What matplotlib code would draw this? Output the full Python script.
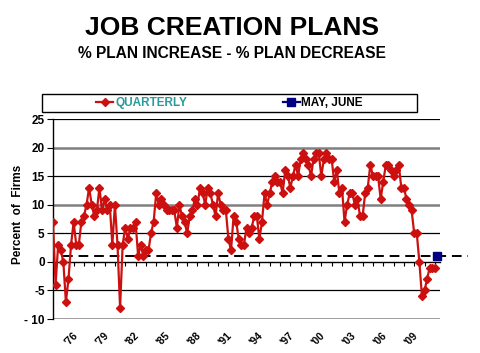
import numpy as np
import matplotlib.pyplot as plt
from matplotlib.patches import Rectangle
from matplotlib.transforms import blended_transform_factory

plt.rcParams["font.family"] = ["Liberation Sans", "DejaVu Sans"]

# quarterly net job creation plans, first quarter 1974 onward
quarterly = [
    7, -4, 3, 2, 0, -7, -3, 3, 7, 3, 3, 7, 8, 10, 13, 10, 8, 9, 13, 9,
    11, 9, 10, 3, 10, 3, -8, 3, 6, 4, 6, 6, 7, 1, 3, 1, 2, 2, 5, 7,
    12, 10, 11, 10, 9, 9, 9, 9, 6, 10, 8, 7, 5, 8, 9, 11, 10, 13, 12, 10,
    13, 12, 10, 8, 12, 10, 9, 9, 4, 2, 8, 7, 4, 3, 3, 6, 5, 6, 8, 8,
    4, 7, 12, 10, 12, 14, 15, 14, 14, 12, 16, 15, 13, 15, 17, 15, 18, 19, 18, 17,
    15, 18, 19, 19, 15, 18, 19, 18, 18, 14, 16, 12, 13, 7, 10, 12, 12, 10, 11, 8,
    8, 12, 13, 17, 15, 15, 15, 11, 14, 17, 17, 16, 15, 16, 17, 13, 13, 11, 10, 9,
    5, 5, 0, -6, -5, -3, -1, -1, -1,
]
may_june = [1]
start_year = 1974

tick_years = [1976, 1979, 1982, 1985, 1988, 1991, 1994, 1997, 2000, 2003, 2006, 2009]
tick_labels = ["'76", "'79", "'82", "'85", "'88", "'91", "'94", "'97", "'00", "'03", "'06", "'09"]
y_ticks = [-10, -5, 0, 5, 10, 15, 20, 25]
y_tick_labels = ["- 10", "-5", "0", "5", "10", "15", "20", "25"]
ref_level = 1
ref_span = [1975.0, 2014.2]

x_q = start_year + np.arange(len(quarterly)) / 4
x_mj = start_year + (len(quarterly) + np.arange(len(may_june))) / 4

fig = plt.figure(figsize=(4.8, 3.53), dpi=100)
ax = fig.add_axes([53 / 480, 1 - 319 / 353, 387 / 480, 200 / 353])

ax.set_ylim(-10, 25)
ax.set_xlim(start_year, start_year + 150 / 4)

# horizontal grid, alternating black / grey like the original
for val in y_ticks:
    if val == 0:
        continue
    if val in (20, 10, -10):
        ax.axhline(val, color="#808080", lw=1.8, zorder=1)
    else:
        ax.axhline(val, color="black", lw=0.9, zorder=1)

ax.plot(ref_span, [ref_level, ref_level], color="black", lw=1.4,
        ls=(0, (5, 3)), clip_on=False, zorder=2)

line_q, = ax.plot(x_q, quarterly, color="#cc1010", marker="D", ms=3.6,
                  lw=1.6, label="QUARTERLY", zorder=3)
line_mj, = ax.plot(x_mj, may_june, color="#000080", marker="s", ms=5.5,
                   lw=1.6, label="MAY, JUNE", clip_on=False, zorder=4)

for side in ("top", "right"):
    ax.spines[side].set_visible(False)
ax.spines["bottom"].set_position(("data", 0))
ax.spines["bottom"].set_linewidth(1.0)
ax.spines["left"].set_linewidth(1.0)

ax.set_xticks(np.arange(1975, 2012))
ax.tick_params(axis="x", length=3, direction="out", labelbottom=False, width=0.8)
ax.set_yticks(y_ticks, y_tick_labels)
ax.tick_params(axis="y", length=4, direction="out", labelsize=8.5, width=0.8, pad=2)
for lab in ax.get_yticklabels():
    lab.set_fontweight("bold")

trans = blended_transform_factory(ax.transData, ax.transAxes)
for yr, lab in zip(tick_years, tick_labels):
    ax.annotate(lab, xy=(yr, 0), xycoords=trans, xytext=(-1, -8),
                textcoords="offset points", rotation=45, ha="right", va="top",
                rotation_mode="anchor", fontsize=7.5, fontweight="bold")

fig.text(18 / 480, 1 - 214 / 353, "Percent  of  Firms", rotation=90,
         ha="center", va="center", fontsize=8.5, fontweight="bold")

fig.text(232 / 480, 1 - 28 / 353, "JOB CREATION PLANS", ha="center",
         va="center", fontsize=19, fontweight="bold")
fig.text(232 / 480, 1 - 53 / 353, "% PLAN INCREASE - % PLAN DECREASE",
         ha="center", va="center", fontsize=11.2, fontweight="bold")

leg = fig.legend(handles=[line_q, line_mj], loc="center",
                 bbox_to_anchor=(229.5 / 480, 1 - 103 / 353), ncol=2,
                 frameon=False, columnspacing=8.1, handlelength=1.45,
                 handletextpad=0.15, borderaxespad=0,
                 prop={"weight": "bold", "size": 8.5})
leg.get_texts()[0].set_color("#2a9a9a")
fig.add_artist(Rectangle((42 / 480, 1 - 111.7 / 353), 375 / 480, 17.4 / 353,
                         transform=fig.transFigure, fill=False,
                         edgecolor="black", lw=1))

fig.savefig("out.png", dpi=100)
